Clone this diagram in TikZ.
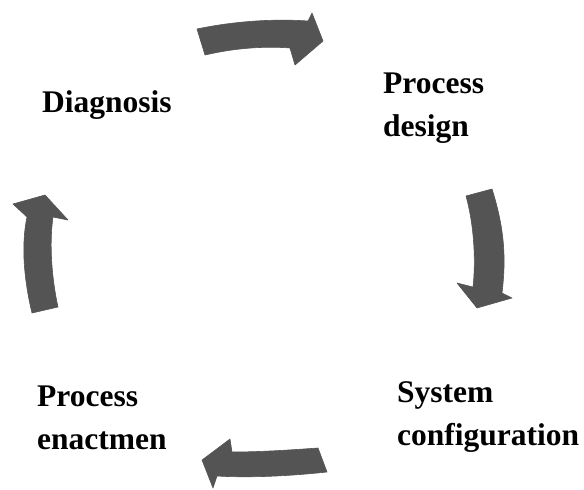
\documentclass[tikz,border=0pt]{standalone}
\usepackage{fontspec}
\setmainfont{Liberation Serif}
\definecolor{arrowgray}{RGB}{84,84,84}
\tikzset{
  cyclearrow/.style={fill=arrowgray, draw=arrowgray, line width=0.6pt, line join=round},
  stage/.style={inner sep=0pt, anchor=base west, align=left,
    font=\fontsize{31.5}{43}\selectfont\bfseries}
}
\begin{document}
\begin{tikzpicture}[x=1pt,y=-1pt]
\useasboundingbox (0,0) rectangle (584,490);
% stage labels (anchored on the baseline of their last line)
\node[stage] (diag) at (42,112) {Diagnosis};
\node[stage] (design) at (383,136) {Process\\design};
\node[stage] (config) at (397,445) {System\\configuration};
\node[stage] (enact) at (37,449) {Process\\enactmen};
% curved block arrows around the cycle
\fill[cyclearrow] (197,29) .. controls (240,20) and (280,19) .. (308,21)
  -- (312,13) -- (323,41) -- (295,65) -- (290,48)
  .. controls (265,46) and (235,48) .. (205,55) -- cycle;
\fill[cyclearrow] (466,196) -- (492,189)
  .. controls (505,230) and (506,260) .. (502,293)
  -- (512,298) -- (477,308) -- (457,283) -- (473,287)
  .. controls (476,260) and (474,225) .. (466,196) -- cycle;
\fill[cyclearrow] (318,448) -- (327,472)
  .. controls (290,476) and (250,478) .. (217,476)
  -- (213,488) -- (202,460) -- (230,439) -- (232,452)
  .. controls (260,452) and (290,450) .. (318,448) -- cycle;
\fill[cyclearrow] (45,195) -- (68,220) -- (53,217)
  .. controls (49,245) and (52,280) .. (58,307)
  -- (32,313) .. controls (24,280) and (21,245) .. (27,217)
  -- (13,204) -- cycle;
\end{tikzpicture}
\end{document}
